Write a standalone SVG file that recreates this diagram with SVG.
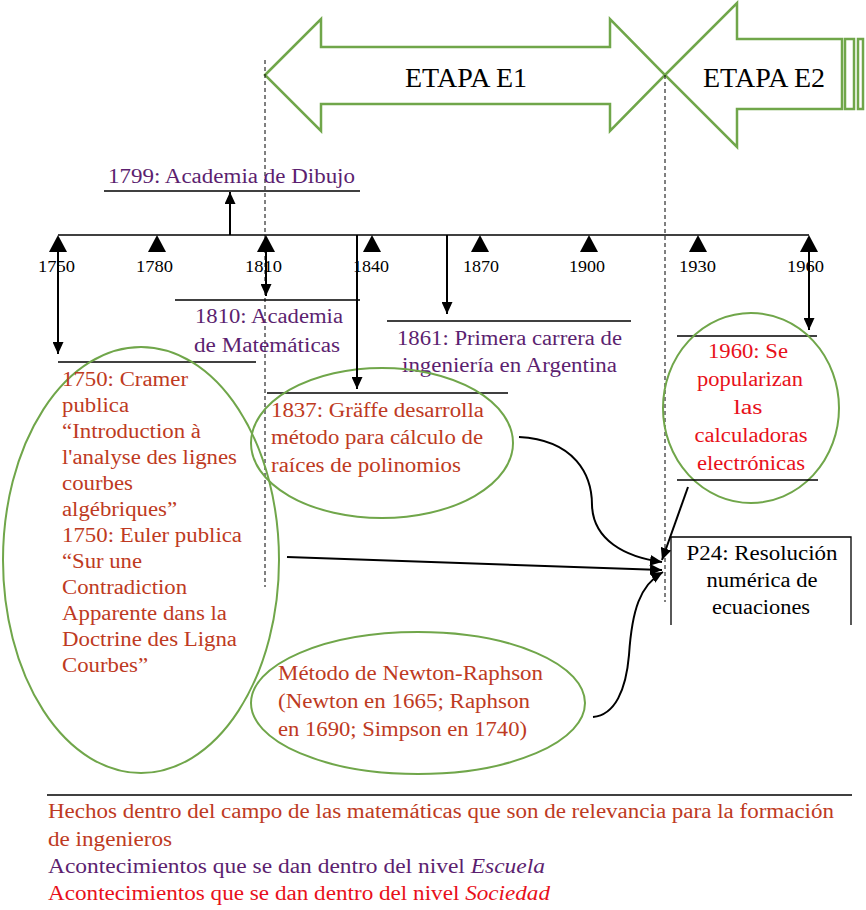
<svg xmlns="http://www.w3.org/2000/svg" width="866" height="910" viewBox="0 0 866 910">
<style>
.t{font-size:20px}
.br{fill:#be3a22}.pu{fill:#5c1f70}.rd{fill:#e8101a}.bk{fill:#000}
.yr{font-size:17px;fill:#000}
.et{font-size:27px;fill:#000}
.g{fill:none;stroke:#70a64a;stroke-width:2.5}
.ell{fill:none;stroke:#70a64a;stroke-width:2}
.ln{stroke:#000;stroke-width:1.3;fill:none}
.ar{stroke:#000;stroke-width:2;fill:none}
.dash{stroke:#000;stroke-width:1;stroke-dasharray:4 3;fill:none}
.tri{fill:#000}
</style>
<defs>
<marker id="ah" markerUnits="userSpaceOnUse" markerWidth="13" markerHeight="11" refX="12" refY="5.5" orient="auto">
<path d="M0,0 L12,5.5 L0,11 z" fill="#000"/>
</marker>
</defs>
<rect width="866" height="910" fill="#fff"/>
<g font-family="Liberation Serif" font-size="20">

<g id="etapa-e1">
<polygon class="g" points="265,75 321,19 321,47 610,47 610,19 665,75 610,131 610,104 321,104 321,131"/>
<text class="et" x="405" y="87" textLength="122" lengthAdjust="spacingAndGlyphs">ETAPA E1</text>
</g>
<g id="etapa-e2">
<polygon class="g" points="665,75 737,3 737,39 842,39 842,109 737,109 737,147"/>
<rect class="g" x="845" y="39" width="9" height="70"/>
<rect class="g" x="858" y="39" width="5" height="70"/>
<text class="et" x="703" y="87" textLength="122" lengthAdjust="spacingAndGlyphs">ETAPA E2</text>
</g>

<g id="dashed">
<line class="dash" x1="265" y1="60" x2="265" y2="587"/>
<line class="dash" x1="665" y1="75" x2="665" y2="602"/>
</g>

<g id="timeline">
<line class="ln" x1="58" y1="235" x2="809" y2="235"/>
<polygon class="tri" points="58,235 49,252 67,252"/>
<polygon class="tri" points="157,235 148,252 166,252"/>
<polygon class="tri" points="266,235 257,252 275,252"/>
<polygon class="tri" points="372,235 363,252 381,252"/>
<polygon class="tri" points="480,235 471,252 489,252"/>
<polygon class="tri" points="589,235 580,252 598,252"/>
<polygon class="tri" points="698,235 689,252 707,252"/>
<polygon class="tri" points="809,235 800,252 818,252"/>
<text class="yr" x="38" y="272" textLength="37" lengthAdjust="spacingAndGlyphs">1750</text>
<text class="yr" x="136" y="272" textLength="37" lengthAdjust="spacingAndGlyphs">1780</text>
<text class="yr" x="245" y="272" textLength="37" lengthAdjust="spacingAndGlyphs">1810</text>
<text class="yr" x="353" y="272" textLength="36" lengthAdjust="spacingAndGlyphs">1840</text>
<text class="yr" x="463" y="272" textLength="36" lengthAdjust="spacingAndGlyphs">1870</text>
<text class="yr" x="569" y="272" textLength="36" lengthAdjust="spacingAndGlyphs">1900</text>
<text class="yr" x="679" y="272" textLength="37" lengthAdjust="spacingAndGlyphs">1930</text>
<text class="yr" x="787" y="272" textLength="37" lengthAdjust="spacingAndGlyphs">1960</text>
</g>

<g id="academia-dibujo">
<text class="pu" x="108" y="183" textLength="247" lengthAdjust="spacingAndGlyphs">1799: Academia de Dibujo</text>
<line class="ln" x1="104" y1="191" x2="360" y2="191"/>
</g>

<g id="academia-matematicas">
<line class="ln" x1="175" y1="300" x2="360" y2="300"/>
<text class="pu" x="195" y="323" textLength="148" lengthAdjust="spacingAndGlyphs">1810: Academia</text>
<text class="pu" x="194" y="352" textLength="146" lengthAdjust="spacingAndGlyphs">de Matemáticas</text>
</g>

<g id="primera-carrera">
<line class="ln" x1="387" y1="321" x2="631" y2="321"/>
<text class="pu" x="397" y="345" textLength="225" lengthAdjust="spacingAndGlyphs">1861: Primera carrera de</text>
<text class="pu" x="402" y="372" textLength="215" lengthAdjust="spacingAndGlyphs">ingeniería en Argentina</text>
</g>

<g id="cramer-euler">
<line class="ln" x1="58" y1="362" x2="256" y2="362"/>
<ellipse class="ell" cx="141" cy="560" rx="138" ry="213"/>
<text class="br" x="62" y="386" textLength="126" lengthAdjust="spacingAndGlyphs">1750: Cramer</text>
<text class="br" x="62" y="412" textLength="67" lengthAdjust="spacingAndGlyphs">publica</text>
<text class="br" x="62" y="438" textLength="139" lengthAdjust="spacingAndGlyphs">“Introduction à</text>
<text class="br" x="62" y="464" textLength="175" lengthAdjust="spacingAndGlyphs">l'analyse des lignes</text>
<text class="br" x="62" y="490" textLength="71" lengthAdjust="spacingAndGlyphs">courbes</text>
<text class="br" x="62" y="516" textLength="115" lengthAdjust="spacingAndGlyphs">algébriques”</text>
<text class="br" x="62" y="542" textLength="180" lengthAdjust="spacingAndGlyphs">1750: Euler publica</text>
<text class="br" x="62" y="568" textLength="80" lengthAdjust="spacingAndGlyphs">“Sur une</text>
<text class="br" x="62" y="594" textLength="125" lengthAdjust="spacingAndGlyphs">Contradiction</text>
<text class="br" x="62" y="620" textLength="165" lengthAdjust="spacingAndGlyphs">Apparente dans la</text>
<text class="br" x="62" y="646" textLength="175" lengthAdjust="spacingAndGlyphs">Doctrine des Ligna</text>
<text class="br" x="62" y="672" textLength="86" lengthAdjust="spacingAndGlyphs">Courbes”</text>
</g>

<g id="graffe">
<line class="ln" x1="267" y1="393" x2="508" y2="393"/>
<ellipse class="ell" cx="382" cy="443" rx="131" ry="75"/>
<text class="br" x="271" y="417" textLength="213" lengthAdjust="spacingAndGlyphs">1837: Gräffe desarrolla</text>
<text class="br" x="271" y="444" textLength="212" lengthAdjust="spacingAndGlyphs">método para cálculo de</text>
<text class="br" x="271" y="472" textLength="190" lengthAdjust="spacingAndGlyphs">raíces de polinomios</text>
</g>

<g id="calculadoras">
<line class="ln" x1="677" y1="336" x2="817" y2="336"/>
<ellipse class="ell" cx="751" cy="408" rx="88" ry="95"/>
<text class="rd" x="748" y="358" text-anchor="middle" textLength="80" lengthAdjust="spacingAndGlyphs">1960: Se</text>
<text class="rd" x="750" y="386" text-anchor="middle" textLength="106" lengthAdjust="spacingAndGlyphs">popularizan</text>
<text class="rd" x="748" y="414" text-anchor="middle" textLength="29" lengthAdjust="spacingAndGlyphs">las</text>
<text class="rd" x="751" y="442" text-anchor="middle" textLength="113" lengthAdjust="spacingAndGlyphs">calculadoras</text>
<text class="rd" x="751" y="470" text-anchor="middle" textLength="108" lengthAdjust="spacingAndGlyphs">electrónicas</text>
<line class="ln" x1="677" y1="480" x2="818" y2="480"/>
</g>

<g id="p24">
<path class="ln" d="M671,625 L671,537 L851,537 L851,625"/>
<text class="bk" x="762" y="560" text-anchor="middle" textLength="151" lengthAdjust="spacingAndGlyphs">P24: Resolución</text>
<text class="bk" x="762" y="587" text-anchor="middle" textLength="111" lengthAdjust="spacingAndGlyphs">numérica de</text>
<text class="bk" x="761" y="614" text-anchor="middle" textLength="98" lengthAdjust="spacingAndGlyphs">ecuaciones</text>
</g>

<g id="newton-raphson">
<ellipse class="ell" cx="418" cy="703" rx="167" ry="71"/>
<text class="br" x="278" y="680" textLength="265" lengthAdjust="spacingAndGlyphs">Método de Newton-Raphson</text>
<text class="br" x="278" y="708" textLength="252" lengthAdjust="spacingAndGlyphs">(Newton en 1665; Raphson</text>
<text class="br" x="278" y="736" textLength="249" lengthAdjust="spacingAndGlyphs">en 1690; Simpson en 1740)</text>
</g>

<g id="connectors">
<line class="ar" x1="230" y1="235" x2="230" y2="192" marker-end="url(#ah)"/>
<line class="ar" x1="58" y1="240" x2="58" y2="354" marker-end="url(#ah)"/>
<line class="ar" x1="266" y1="240" x2="266" y2="296" marker-end="url(#ah)"/>
<line class="ar" x1="357" y1="235" x2="357" y2="389" marker-end="url(#ah)"/>
<line class="ar" x1="447" y1="235" x2="447" y2="314" marker-end="url(#ah)"/>
<line class="ar" x1="809" y1="240" x2="809" y2="330" marker-end="url(#ah)"/>
<line class="ar" x1="287" y1="557" x2="662" y2="570" marker-end="url(#ah)"/>
<path class="ar" d="M519,437 C575,440 592,475 592,505 C593,540 625,557 662,562" marker-end="url(#ah)"/>
<line class="ar" x1="688" y1="487" x2="662" y2="560" marker-end="url(#ah)"/>
<path class="ar" d="M593,717 C615,715 626,690 629,655 C632,610 640,585 663,572" marker-end="url(#ah)"/>
</g>

<g id="legend">
<line class="ln" x1="47" y1="795" x2="852" y2="795"/>
<text class="br" x="48" y="818" textLength="786" lengthAdjust="spacingAndGlyphs">Hechos dentro del campo de las matemáticas que son de relevancia para la formación</text>
<text class="br" x="48" y="846" textLength="124" lengthAdjust="spacingAndGlyphs">de ingenieros</text>
<text class="pu" x="48" y="873" textLength="497" lengthAdjust="spacingAndGlyphs">Acontecimientos que se dan dentro del nivel <tspan font-style="italic">Escuela</tspan></text>
<text class="rd" x="48" y="900" textLength="502" lengthAdjust="spacingAndGlyphs">Acontecimientos que se dan dentro del nivel <tspan font-style="italic">Sociedad</tspan></text>
</g>
</g>
</svg>
